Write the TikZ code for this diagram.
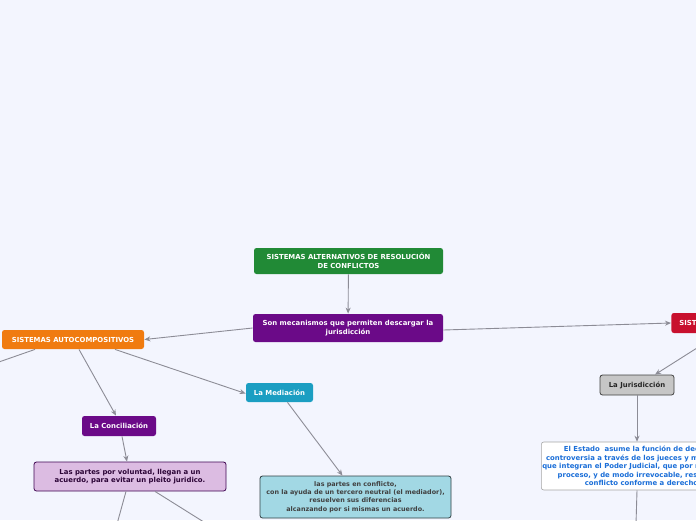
\documentclass[tikz,border=0pt]{standalone}
\usepackage{fontspec}
\setmainfont{DejaVu Sans}
\usetikzlibrary{arrows.meta}

\definecolor{fondo}{HTML}{F3F5FE}
\definecolor{linea}{HTML}{8C8C96}
\definecolor{verde}{HTML}{218A36}
\definecolor{morado}{HTML}{6B0A88}
\definecolor{naranja}{HTML}{F07B10}
\definecolor{turquesa}{HTML}{1B9EC2}
\definecolor{celeste}{HTML}{A2D8E4}
\definecolor{lila}{HTML}{DCBCE2}
\definecolor{rojo}{HTML}{C8102E}
\definecolor{gris}{HTML}{C6C6C6}
\definecolor{azul}{HTML}{1A6ED8}

\begin{document}
\begin{tikzpicture}[x=1pt, y=-1pt, thick,
    font=\bfseries\fontsize{6.9}{8.4}\selectfont,
    main/.style = {rounded corners=2.5pt, align=center, inner sep=1pt, text=white},
    sub/.style = {main, draw, line width=0.8pt},
    conn/.style = {draw=linea, line width=0.9pt},
    flecha/.style = {conn, -{Stealth[length=6pt, width=5pt]}}]
    \fill[fondo] (0,0) rectangle (696,520);
    \useasboundingbox (0,0) rectangle (696,520);
    \clip (0,0) rectangle (696,520);

    % nodos
    \node[main, fill=verde, minimum width=189pt, minimum height=26pt] (titulo) at (348.5,261)
        {SISTEMAS ALTERNATIVOS DE RESOLUCIÓN\\DE CONFLICTOS};
    \node[main, fill=morado, minimum width=190pt, minimum height=28pt] (son) at (348,328)
        {Son mecanismos que permiten descargar la\\jurisdicción};
    \node[main, fill=naranja, minimum width=142pt, minimum height=19pt] (auto) at (73,339.5)
        {SISTEMAS AUTOCOMPOSITIVOS};
    \node[main, fill=rojo, inner xsep=8pt, minimum height=20pt, anchor=west] (hetero) at (671,323)
        {SISTEMAS HETEROCOMPOSITIVOS};
    \node[main, fill=turquesa, minimum width=67pt, minimum height=19pt] (media) at (279.5,392.5)
        {La Mediación};
    \node[main, fill=morado, minimum width=74pt, minimum height=20pt] (conci) at (119,426)
        {La Conciliación};
    \node[sub, draw=black!75, fill=gris, text=black!85, minimum width=74pt, minimum height=20pt] (juris) at (637,385)
        {La Jurisdicción};
    \node[sub, draw=black!70!celeste, fill=celeste, text=black!75, minimum width=191pt, minimum height=42pt,
          font=\bfseries\fontsize{6.4}{8.2}\selectfont] (mtexto) at (355.5,497)
        {las partes en conflicto,\\con la ayuda de un tercero neutral (el mediador),\\resuelven sus diferencias\\alcanzando por si mismas un acuerdo.};
    \node[sub, draw=morado!60!black, fill=lila, text=morado!40!black, minimum width=192pt, minimum height=29pt] (ctexto) at (130,476.5)
        {Las partes por voluntad, llegan a un\\acuerdo, para evitar un pleito juridico.};
    \node[sub, draw=black!35, line width=0.6pt, fill=white, text=azul, minimum width=200pt, minimum height=48pt, anchor=west] (estado) at (541,466)
        {El Estado\ \ asume la función de decidir la\\controversia a través de los jueces y magistrados\\que integran el Poder Judicial, que por medio de un\\proceso, y de modo irrevocable, resuelve el\\conflicto conforme a derecho.};

    \coordinate (izq) at (-4,363);
    \coordinate (abajo1) at (117,524);
    \coordinate (abajo2) at (207,524);
    \coordinate (abajo3) at (636,524);

    % conectores
    \draw[flecha] (titulo) -- (son);
    \draw[flecha] (son.west) -- (auto.east);
    \draw[flecha] ([yshift=-2pt]son.east) -- (hetero.west);
    \draw[conn] ([xshift=-38pt]auto.south) -- (izq);
    \draw[flecha] ([xshift=6pt]auto.south) -- ([xshift=-3pt]conci.north);
    \draw[flecha] ([xshift=42pt]auto.south) -- ([yshift=-1pt]media.west);
    \draw[flecha] ([xshift=8pt]media.south) -- ([xshift=-13pt]mtexto.north);
    \draw[flecha] ([xshift=3pt]conci.south) -- ([xshift=-3pt]ctexto.north);
    \draw[conn] ([xshift=-4pt]ctexto.south) -- (abajo1);
    \draw[conn] ([xshift=25pt]ctexto.south) -- (abajo2);
    \draw[flecha] ([xshift=49pt]hetero.south west) -- ([xshift=18pt]juris.north);
    \draw[flecha] (juris.south) -- (juris.south |- estado.north);
    \draw[conn] (juris.south |- estado.south) -- (abajo3);
\end{tikzpicture}
\end{document}
